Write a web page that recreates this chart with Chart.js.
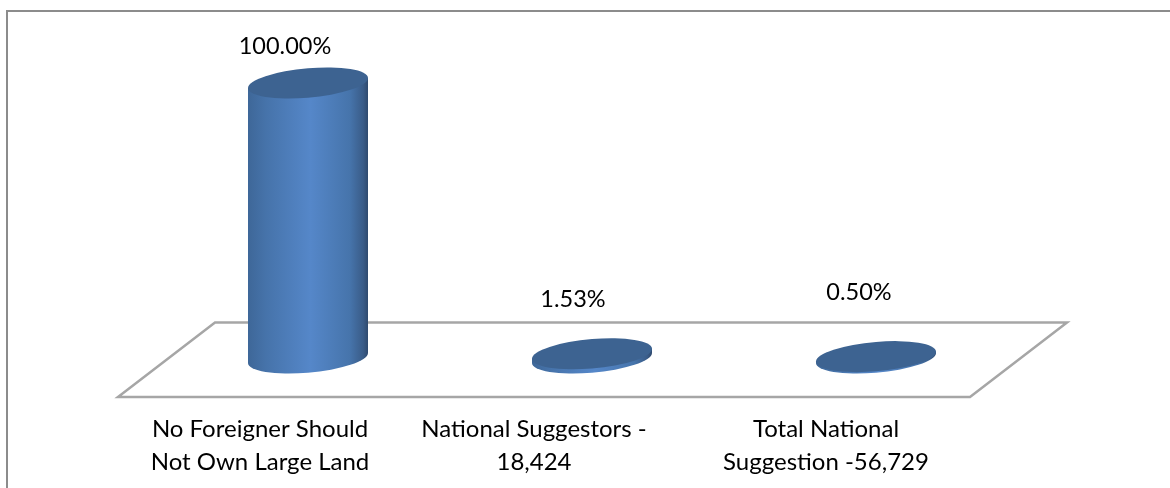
<!DOCTYPE html>
<html>
<head>
<meta charset="utf-8">
<script src="https://cdn.jsdelivr.net/npm/chart.js@4/dist/chart.umd.min.js"></script>
<style>
    html, body { margin: 0; padding: 0; background: #fff; overflow: hidden; }
    #marco { position: absolute; left: 6px; top: 10px; width: 1164px; height: 478px; border-left: 2px solid #8c8c8c; border-top: 2px solid #8c8c8c; box-sizing: border-box; }
    canvas { position: absolute; left: 0; top: 0; }
</style>
</head>
<body>
<canvas id="grafico" width="1170" height="488"></canvas>
<div id="marco"></div>
<script>
const categorias = [
    ['No Foreigner Should', 'Not Own Large Land'],
    ['National Suggestors -', '18,424'],
    ['Total National', 'Suggestion -56,729']
];
const valores = [100, 1.53, 0.5];
const etiquetas = ['100.00%', '1.53%', '0.50%'];

const fuente = 'Lato, sans-serif';
const inclinacion = -0.083;
const radioY = 14.7;
// the data labels were moved by hand in the original, so each one has its own offset
const desvioEtiquetas = [[-23, -37], [-19, -54], [-17, -64]];
const desvioTicks = [0, -10, -2];

function degradado(ctx, x0, x1) {
    const g = ctx.createLinearGradient(x0, 0, x1, 0);
    g.addColorStop(0, '#3e6798');
    g.addColorStop(0.15, '#4673aa');
    g.addColorStop(0.52, '#5587c9');
    g.addColorStop(0.85, '#4674ab');
    g.addColorStop(0.96, '#3a5c88');
    g.addColorStop(1, '#2f4a6e');
    return g;
}

const cilindros = {
    id: 'cilindros',
    beforeDraw(chart) {
        // floor of the 3d chart
        const { ctx, chartArea } = chart;
        const abajo = chartArea.bottom + 39;
        const arriba = chartArea.bottom - 35.5;
        ctx.save();
        ctx.beginPath();
        ctx.moveTo(chartArea.left - 48, abajo);
        ctx.lineTo(chartArea.right - 48, abajo);
        ctx.lineTo(chartArea.right + 49, arriba);
        ctx.lineTo(chartArea.left + 49, arriba);
        ctx.closePath();
        ctx.strokeStyle = '#a6a6a6';
        ctx.lineWidth = 2.5;
        ctx.stroke();
        ctx.restore();

        const items = chart.scales.x.getLabelItems();
        items.forEach((item, i) => { item.options.translation[0] = chart.scales.x.getPixelForTick(i) - 48 + desvioTicks[i]; });
    },
    afterDatasetsDraw(chart) {
        const { ctx } = chart;
        chart.getDatasetMeta(0).data.forEach((bar, i) => {
            const radioX = bar.width / 2;
            ctx.save();
            ctx.translate(bar.x, 0);
            ctx.transform(1, inclinacion, 0, 1, 0, 0);
            ctx.beginPath();
            ctx.moveTo(-radioX, bar.y);
            ctx.lineTo(-radioX, bar.base);
            ctx.ellipse(0, bar.base, radioX, radioY, 0, Math.PI, 0, true);
            ctx.lineTo(radioX, bar.y);
            ctx.closePath();
            ctx.fillStyle = degradado(ctx, -radioX, radioX);
            ctx.fill();
            ctx.beginPath();
            ctx.ellipse(0, bar.y, radioX, radioY, 0, 0, Math.PI * 2);
            ctx.fillStyle = '#3d6391';
            ctx.fill();
            ctx.restore();

            ctx.save();
            ctx.font = '23.5px ' + fuente;
            ctx.fillStyle = '#000';
            ctx.textAlign = 'center';
            ctx.textBaseline = 'middle';
            ctx.fillText(etiquetas[i], bar.x + desvioEtiquetas[i][0], bar.y + desvioEtiquetas[i][1]);
            ctx.restore();
        });
    }
};

new Chart(document.getElementById('grafico'), {
    type: 'bar',
    data: {
        labels: categorias,
        datasets: [{
            data: valores,
            backgroundColor: 'transparent',
            barThickness: 120
        }]
    },
    options: {
        responsive: false,
        animation: false,
        layout: { padding: { left: 166, right: 152, top: 83, bottom: 0 } },
        plugins: { legend: { display: false }, tooltip: { enabled: false } },
        scales: {
            x: {
                afterFit(scale) { scale.height = 130; },
                grid: { display: false },
                border: { display: false },
                ticks: {
                    color: '#000',
                    padding: 47,
                    maxRotation: 0,
                    font: { family: fuente, size: 24, lineHeight: '33px' }
                }
            },
            y: { display: false, min: 0, max: 100 }
        }
    },
    plugins: [cilindros]
});
</script>
</body>
</html>
